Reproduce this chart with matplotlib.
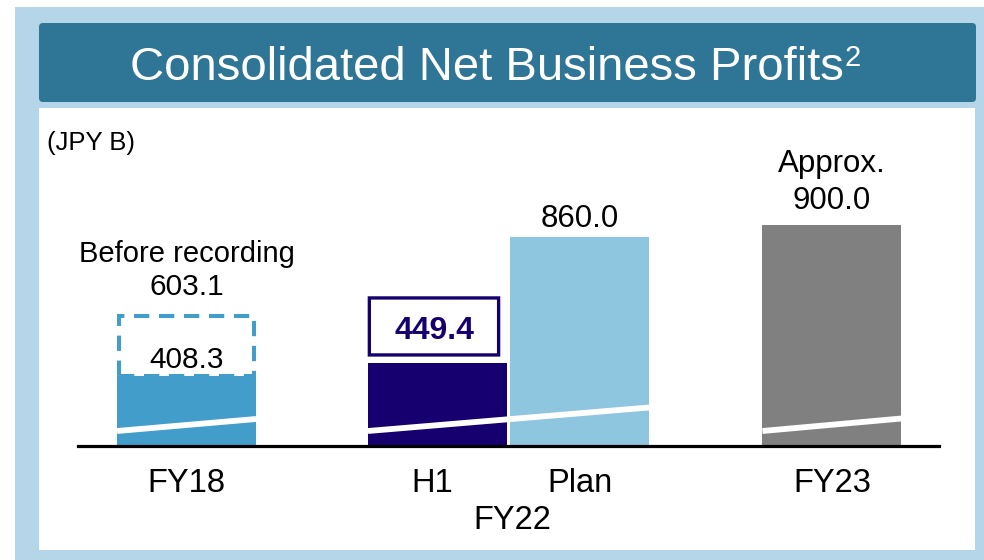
import matplotlib
matplotlib.use("Agg")
import matplotlib.pyplot as plt
from matplotlib.patches import Rectangle, FancyBboxPatch

plt.rcParams['font.family'] = ['Liberation Sans', 'DejaVu Sans']

# ---------------- data ----------------
categories = ["FY18", "H1", "Plan", "FY23"]
values = [408.3, 449.4, 860.0, 900.0]
value_labels = ["408.3", "449.4", "860.0", "900.0"]
before_recording = 603.1
before_label = "Before recording"
approx_label = "Approx."
group_label = "FY22"
unit_label = "(JPY B)"
title = "Consolidated Net Business Profits"
title_sup = "2"

# ---------------- layout / style ----------------
W, H, DPI = 984, 560, 100
x_pos = [0.781, 2.586, 3.608, 5.424]
bar_w = 1.0
colors = ["#439dca", "#16006f", "#8ec5df", "#808080"]
y_bottom = 178.6
px_per_unit = 0.3067
ax_top_px, ax_base_px, ax_left_px, ax_right_px = 110, 446, 78, 939

fig = plt.figure(figsize=(W / DPI, H / DPI), dpi=DPI)
fig.patch.set_facecolor("white")


def px_rect(x0, y0, x1, y1):
    return (x0 / W, 1 - y1 / H), (x1 - x0) / W, (y1 - y0) / H


xy, w, h = px_rect(15, 7, 984, 560)
fig.patches.append(Rectangle(xy, w, h, transform=fig.transFigure, fc="#b4d6e8", ec="none", zorder=0))
xy, w, h = px_rect(39, 108, 975, 550)
fig.patches.append(Rectangle(xy, w, h, transform=fig.transFigure, fc="white", ec="none", zorder=1))
xy, w, h = px_rect(39, 23, 976, 102)
fig.patches.append(FancyBboxPatch(xy, w, h, boxstyle="round,pad=0,rounding_size=0.004",
                                  mutation_aspect=W / H, transform=fig.transFigure,
                                  fc="#2e7596", ec="none", zorder=2))
t = fig.text(130 / W, 1 - 80 / H, title, color="white", fontsize=34, ha="left", va="baseline", zorder=3)
fig.canvas.draw()
bb = t.get_window_extent(renderer=fig.canvas.get_renderer())
fig.text((bb.x1 + 1) / W, 1 - 44 / H, title_sup, color="white", fontsize=21, ha="left", va="top", zorder=3)

ax_h_px = ax_base_px - ax_top_px
ax = fig.add_axes([ax_left_px / W, 1 - ax_base_px / H, (ax_right_px - ax_left_px) / W, ax_h_px / H])
ax.set_zorder(5)
ax.patch.set_alpha(0)
ax.set_xlim(0, (ax_right_px - ax_left_px) / 139.0)
ax.set_ylim(y_bottom, y_bottom + ax_h_px / px_per_unit)
for s in ["top", "right", "left"]:
    ax.spines[s].set_visible(False)
ax.spines["bottom"].set_linewidth(2.3)
ax.spines["bottom"].set_color("black")
ax.spines["bottom"].set_zorder(6)
ax.set_xticks([])
ax.set_yticks([])

bars = ax.bar(x_pos, values, width=bar_w, color=colors, zorder=2, linewidth=0)

# dashed outline for "before recording"
ax.add_patch(Rectangle((x_pos[0] - bar_w / 2 + 0.013, values[0]), bar_w - 0.026, before_recording - values[0],
                       fill=False, ec=colors[0], lw=2.9, linestyle=(0, (3.8, 2.4)), zorder=3))

# axis-break white lines
def px2val(p):
    return y_bottom + p / px_per_unit

brk = [
    ([x_pos[0] - bar_w / 2, x_pos[0] + bar_w / 2], [px2val(15), px2val(27)]),
    ([x_pos[1] - bar_w / 2, x_pos[2] + bar_w / 2], [px2val(15), px2val(38.5)]),
    ([x_pos[3] - bar_w / 2, x_pos[3] + bar_w / 2], [px2val(15), px2val(27.5)]),
]
for xs, ys in brk:
    ax.plot(xs, ys, color="white", lw=4.2, solid_capstyle="butt", zorder=4)

# category labels
cat_dx = [0.0, -0.04, 0.0, 0.0]
for x, dx, c in zip(x_pos, cat_dx, categories):
    ax.annotate(c, xy=(x + dx, 0), xycoords=("data", "axes fraction"), xytext=(0, -46),
                textcoords="offset pixels", ha="center", va="baseline", fontsize=23.5,
                annotation_clip=False)
ax.annotate(group_label, xy=((x_pos[1] + x_pos[2]) / 2 + 0.03, 0), xycoords=("data", "axes fraction"),
            xytext=(0, -83), textcoords="offset pixels", ha="center", va="baseline", fontsize=23.5,
            annotation_clip=False)

def lab(x, y, off, s, **kw):
    ax.annotate(s, xy=(x, y), xytext=(0, off), textcoords="offset pixels", ha="center",
                va="baseline", annotation_clip=False, zorder=7, **kw)

# FY18
lab(x_pos[0], values[0], 8, value_labels[0], fontsize=21.5)
lab(x_pos[0], before_recording, 21, f"{before_recording:.1f}", fontsize=21.5)
lab(x_pos[0], before_recording, 54, before_label, fontsize=21)
# H1 boxed
box_l = x_pos[1] - bar_w / 2 + 0.01
box_r = x_pos[1] + bar_w / 2 - 0.06
ax.add_patch(FancyBboxPatch((box_l, values[1] + 8 / px_per_unit), box_r - box_l, 57 / px_per_unit,
                            boxstyle="round,pad=0,rounding_size=0.03", mutation_aspect=1 / (px_per_unit * 139),
                            fc="white", ec=colors[1], lw=2.4, zorder=6))
lab(x_pos[1] - 0.025, values[1], 24, value_labels[1], fontsize=23, fontweight="bold", color=colors[1])
# Plan
lab(x_pos[2], values[2], 10, value_labels[2], fontsize=22.5)
# FY23
lab(x_pos[3], values[3], 16, value_labels[3], fontsize=22.5)
lab(x_pos[3], values[3], 53, approx_label, fontsize=22.5)

# unit
fig.text(47 / W, 1 - 150 / H, unit_label, fontsize=18.5, ha="left", va="baseline", zorder=8)

fig.savefig("out.png", dpi=DPI)
